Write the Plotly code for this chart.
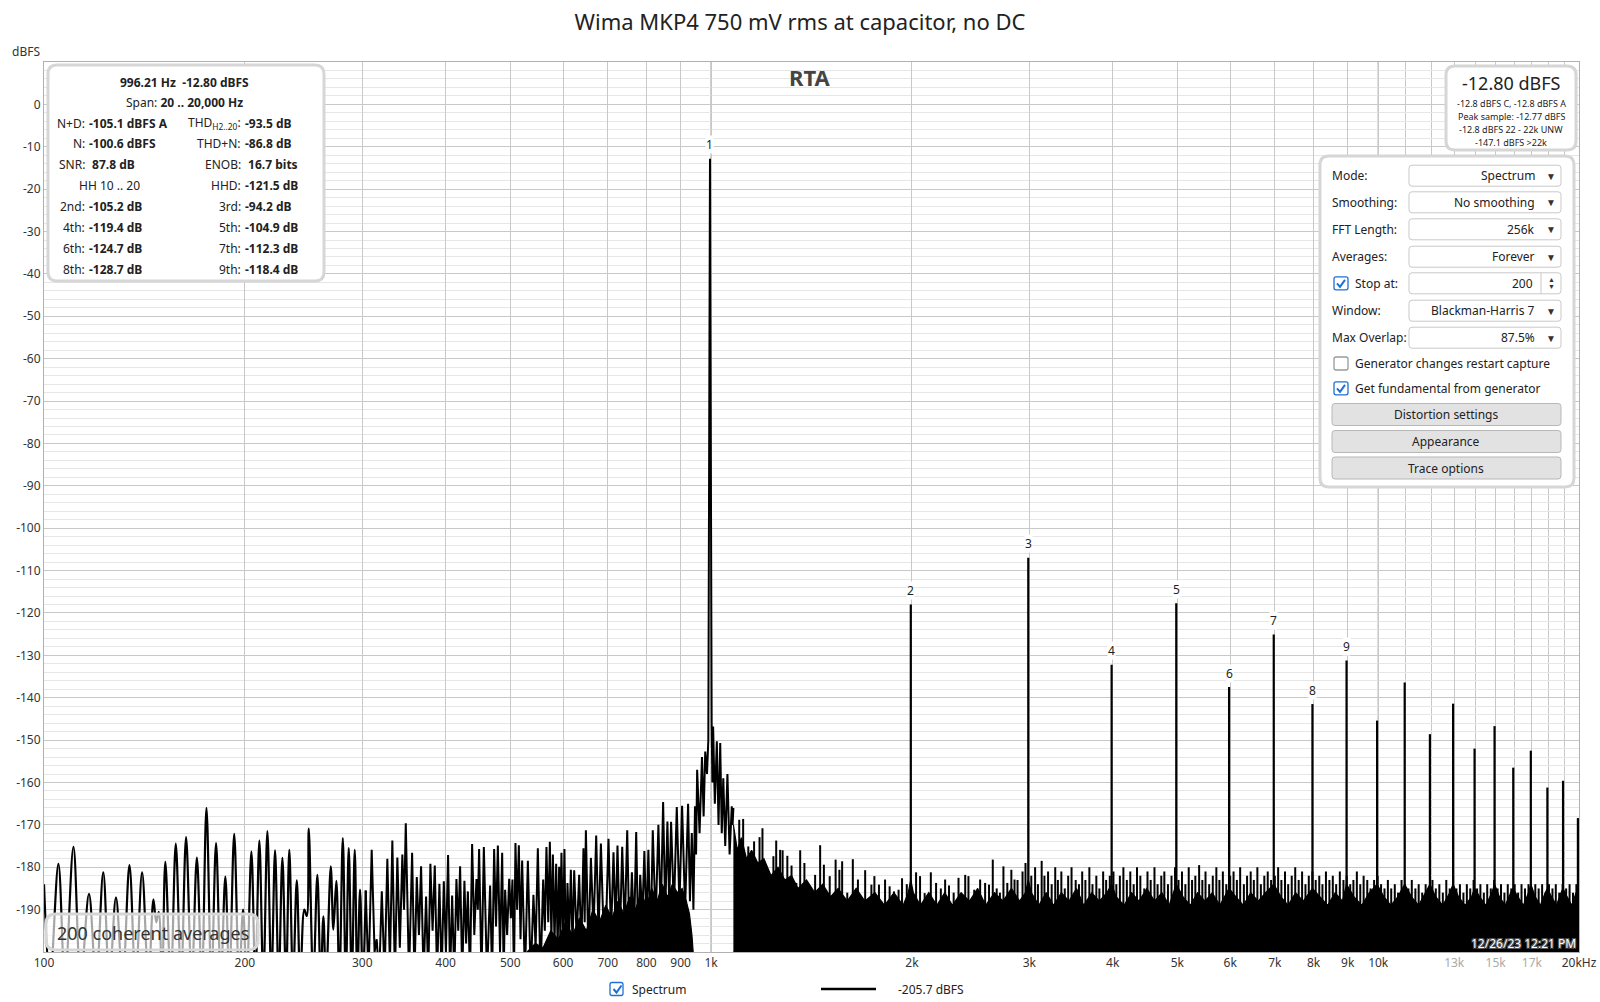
import math
import plotly.graph_objects as go

FONT = "Noto Sans"
TITLE = "Wima MKP4 750 mV rms at capacitor, no DC"

# ---------------- spectrum data ----------------
# 100 Hz .. 304 Hz : lobes (peak / null vertices), drawn smoothed
lobe_pts = [
    (100, -184), (102.1, -207), (105.1, -179.2), (107.5, -207), (110.7, -175.2), (113.5, -207),
    (116.8, -186.3), (119.7, -207), (122.7, -181.2), (125.3, -207), (128.2, -187.1), (131.2, -207),
    (134.3, -179.5), (137.2, -207), (140.3, -181.2), (143.4, -207), (145.9, -187.6), (147.3, -193),
    (148.6, -190.5), (150.3, -207), (152.0, -178.7), (154.9, -207), (157.6, -174.4), (160.5, -207),
    (163.3, -172.9), (166.5, -207), (169.5, -177.7), (172.4, -207), (175.2, -166.0), (178.2, -207),
    (181.1, -174.3), (184.1, -207), (187.0, -182.2), (189.6, -207), (192.8, -172.1), (196.1, -207),
    (198.8, -190.0), (201.3, -207), (204.6, -176.3), (207.4, -207), (210.3, -173.7), (213.2, -207),
    (216.2, -171.5), (219.2, -207), (222.0, -176.0), (224.8, -207), (227.7, -177.8), (230.6, -207),
    (233.2, -175.9), (236.2, -207), (239.3, -183.1), (242.2, -207), (245.6, -190.0), (247.7, -191.5),
    (249.4, -170.9), (253.3, -207), (256.9, -181.8), (259.9, -207), (262.3, -191.6), (264.7, -207),
    (269.1, -179.8), (271.5, -194.7), (274.3, -183.2), (277.2, -207), (280.5, -173.1), (283.4, -207),
    (286.3, -175.5), (289.3, -207), (292.3, -175.9), (294.9, -207), (297.7, -185.3), (300.5, -207),
    (303.6, -185.5),
]

# 304 Hz .. 1.08 kHz incl. the fundamental and its skirt
mid_pts = [
    (303.6, -185.5), (306.5, -206), (309.9, -175.9), (313, -200), (315.3, -197), (318, -206),
    (320.9, -185.7), (324, -206), (327.1, -178.0), (330, -203), (332.8, -173.7), (335.8, -206),
    (338.6, -177.7), (341.5, -199), (344.5, -177.0), (346.5, -190), (348.6, -169.6), (352.5, -206),
    (356.3, -176.6), (359.2, -206), (362.1, -182.3), (364.8, -196), (367.5, -179.8), (370.7, -206),
    (373.9, -186.9), (376.7, -206), (379.5, -179.2), (382.4, -195), (385.3, -179.6), (388.4, -206),
    (391.5, -183.9), (394.5, -206), (397.5, -183.3), (400.4, -200), (403.4, -177.1), (406.2, -206),
    (409.1, -186.7), (412.1, -206), (415.2, -182.8), (417.8, -195), (420.5, -179.8), (423.6, -206),
    (426.8, -183.2), (429.3, -198), (431.9, -185.7), (435.1, -206), (438.3, -174.5), (441.6, -196),
    (444.9, -182.8), (447, -190), (449.0, -175.7), (452.7, -206), (456.4, -175.2), (461.4, -206),
    (466.4, -184.3), (469.6, -206), (472.9, -175.7), (476, -194), (479.0, -174.9), (482.6, -200),
    (486.2, -176.6), (488.7, -206), (491.2, -185.3), (494.6, -196), (498.1, -182.7), (501, -192),
    (503.8, -182.9), (506.4, -206), (509.0, -174.3), (512, -190), (515.0, -174.8), (518, -197),
    (520.9, -178.4), (526, -206), (531.3, -178.5), (536.5, -206), (541.6, -186.5), (545.7, -199),
    (549.9, -175.5), (555, -206), (560.1, -182.9), (563.3, -195), (566.5, -175.2), (570, -193),
    (573.2, -174.0), (576.2, -197), (579.2, -177.0), (582.5, -198), (585.8, -179.2), (588.8, -199),
    (591.9, -179.9), (594.2, -196), (596.6, -176.6), (599.7, -197), (602.8, -175.7), (606, -204),
    (609.1, -183.7), (612.7, -196), (616.3, -180.6), (619.8, -199), (623.4, -180.7), (628.8, -197),
    (634.2, -181.8), (639, -199), (643.7, -175.5), (646.4, -193), (649.1, -171.3), (654.7, -200),
    (660.4, -177.8), (666.5, -195), (672.6, -172.5), (678.1, -196), (683.6, -174.4), (692.7, -204),
    (701.8, -173.3), (707.9, -196), (714.0, -176.5), (719, -194), (723.9, -174.9), (729.8, -197),
    (735.8, -175.2), (742.2, -195), (748.6, -171.3), (754.7, -199), (760.8, -181.2), (766.5, -196),
    (772.2, -171.7), (777.6, -198), (783.0, -181.8), (788.6, -192), (794.3, -176.2), (799.8, -194),
    (805.4, -175.9), (811.5, -198), (817.7, -171.3), (825.7, -193), (833.7, -170.0), (840.5, -192),
    (847.4, -164.6), (853.7, -191), (860.0, -169.2), (865.5, -189), (871.0, -169.3), (879.6, -190),
    (888.3, -165.8), (896.5, -189), (904.7, -165.5), (914.2, -190), (923.7, -165.0), (929.6, -188),
    (935.6, -171.9), (940.8, -190), (946, -165.6), (949.5, -177), (953, -157), (961, -172),
    (969, -154), (974.5, -168), (980, -152.7), (986, -158), (990.5, -150), (993.2, -100),
    (995.0, -45), (996.21, -12.8), (997.4, -45), (999.2, -100), (1002, -146), (1004.5, -160),
    (1007, -146.8), (1013, -165), (1020, -150.3), (1026, -170), (1032, -150.7), (1037.5, -172),
    (1043, -159), (1050, -175), (1058, -158), (1066, -177), (1074, -165.6), (1077, -170),
    (1080, -166.0),
]

# 530 Hz .. 940 Hz : top of the solid noise mass left of the fundamental
floor_lo_pts = [
    (530, -200), (545, -198), (560, -199), (575, -195), (590, -197), (605, -193), (620, -196),
    (635, -192), (650, -195), (665, -190), (680, -193), (695, -189), (710, -192), (725, -188),
    (740, -191), (755, -187), (770, -190), (785, -186), (800, -189), (815, -185), (830, -188),
    (845, -184), (860, -187), (875, -184), (890, -186), (905, -185), (918, -188), (928, -191),
    (936, -196), (940, -200),
]

# 1.08 kHz .. 20 kHz : top of the solid noise mass
floor_pts = [
    (1080, -170), (1095, -176), (1110, -173), (1130, -178), (1150, -176), (1175, -179), (1200, -178),
    (1230, -182), (1260, -180), (1290, -183), (1320, -182), (1350, -185), (1390, -183), (1430, -186),
    (1470, -184), (1510, -187), (1550, -185), (1600, -188), (1650, -185), (1700, -188), (1760, -186),
    (1820, -189), (1880, -186), (1940, -189), (1975, -186), (1992, -183), (2010, -186), (2060, -189),
    (2120, -186), (2180, -189), (2240, -186), (2300, -189), (2370, -186), (2440, -188), (2510, -185),
    (2580, -189), (2660, -186), (2740, -188), (2820, -185), (2900, -188), (2960, -186), (2989, -183),
    (3020, -186), (3100, -189), (3180, -186), (3260, -189), (3350, -186), (3440, -188), (3530, -185),
    (3620, -189), (3720, -186), (3820, -188), (3920, -186), (3985, -184), (4050, -187), (4160, -189),
    (4270, -186), (4380, -188), (4500, -185), (4620, -188), (4740, -186), (4860, -189), (4981, -184),
    (5100, -187), (5230, -189), (5360, -186), (5500, -188), (5640, -186), (5790, -189), (5977, -185),
    (6120, -187), (6280, -189), (6440, -186), (6610, -188), (6780, -186), (6973, -184), (7150, -187),
    (7330, -189), (7520, -186), (7720, -188), (7970, -185), (8180, -187), (8400, -189), (8620, -186),
    (8840, -188), (8966, -184), (9200, -187), (9450, -189), (9700, -186), (9962, -184), (10200, -187),
    (10450, -189), (10700, -187), (10958, -184), (11220, -187), (11500, -189), (11780, -186),
    (11955, -184), (12200, -187), (12500, -189), (12800, -186), (12950, -184), (13200, -187),
    (13500, -189), (13800, -187), (13947, -185), (14200, -187), (14500, -189), (14800, -186),
    (14943, -184), (15200, -187), (15500, -189), (15800, -186), (15939, -185), (16200, -187),
    (16500, -189), (16800, -186), (16936, -184), (17200, -187), (17500, -189), (17800, -186),
    (17932, -185), (18200, -187), (18500, -189), (18800, -186), (18928, -185), (19200, -187),
    (19500, -189), (19800, -186), (20000, -188),
]

# noise spikes standing above the solid mass
spike_pts = [
    (1102, -168.8), (1117, -168.6), (1137, -175.1), (1160, -173.9), (1182, -172.9), (1194, -170.8),
    (1215, -182.5), (1240, -177.4), (1252, -173.7), (1269, -175.9), (1280, -176.0), (1301, -177.3),
    (1320, -179.6), (1342, -183.7), (1360, -176.0), (1380, -179.0), (1405, -186), (1432, -181.8),
    (1457, -174.8), (1476, -179.4), (1506, -182.1), (1537, -178.2), (1557, -180.6), (1572, -178.6),
    (1600, -186), (1631, -178.1), (1660, -182.9), (1702, -180.7), (1739, -184.1), (1757, -182.1),
    (1785, -184.1), (1823, -182.9), (1852, -184.5), (1880, -185.7), (1910, -185.3), (1933, -182.6),
    (1965, -184), (2029, -181.2), (2057, -182.1), (2090, -186.1), (2135, -181.2), (2174, -183.7),
    (2210, -185), (2243, -182.9), (2273, -184.3), (2310, -186), (2349, -182.5), (2404, -181.8),
    (2431, -182.1), (2480, -185.3), (2531, -182.9), (2575, -183.7), (2610, -184.1), (2644, -178.2),
    (2680, -185), (2710, -186), (2743, -179.8), (2780, -183.7), (2819, -180.6), (2850, -182.9),
    (2880, -183), (2930, -181), (2960, -179), (3020, -182), (3060, -180), (3090, -184), (3130, -178.5),
    (3160, -182), (3200, -181), (3240, -184), (3280, -180), (3310, -183), (3350, -181), (3390, -185),
    (3430, -182), (3470, -180), (3520, -183), (3560, -184), (3600, -181), (3640, -183), (3690, -180),
    (3730, -184), (3780, -182), (3820, -185), (3870, -181), (3910, -183), (3960, -182), (4010, -181),
    (4050, -184), (4100, -182), (4150, -180), (4200, -183), (4250, -181), (4300, -184), (4350, -180),
    (4400, -182), (4460, -185), (4510, -181), (4560, -183), (4620, -180), (4670, -184), (4730, -182),
    (4780, -181), (4840, -184), (4900, -182), (4960, -180), (5020, -183), (5080, -181), (5140, -184),
    (5200, -180), (5260, -183), (5320, -182), (5390, -179.5), (5450, -183), (5510, -181), (5580, -184),
    (5650, -182), (5720, -180), (5780, -183), (5850, -181), (5920, -184), (6000, -182), (6070, -181),
    (6140, -183), (6210, -180), (6290, -184), (6360, -182), (6440, -181), (6510, -183), (6590, -180),
    (6670, -184), (6750, -182), (6830, -181), (6910, -183), (7000, -182), (7080, -180), (7160, -183),
    (7250, -181), (7330, -184), (7420, -182), (7510, -180), (7600, -183), (7690, -181), (7780, -184),
    (7870, -182), (7970, -181), (8060, -183), (8160, -182), (8250, -184), (8350, -181), (8450, -183),
    (8550, -182), (8650, -184), (8760, -181), (8870, -183), (8970, -182), (9080, -184), (9180, -183),
    (9290, -181), (9400, -184), (9510, -182), (9630, -183), (9740, -185), (9860, -183), (9980, -182),
    (10100, -184), (10220, -185), (10340, -183), (10460, -185), (10590, -184), (10710, -186),
    (10840, -183), (10970, -184), (11100, -185), (11230, -183), (11370, -185), (11500, -184),
    (11640, -186), (11780, -184), (11920, -185), (12060, -183), (12200, -185), (12350, -184),
    (12500, -186), (12650, -183), (12800, -185), (12950, -182), (13100, -185), (13260, -184),
    (13420, -186), (13580, -184), (13740, -185), (13900, -183), (14070, -185), (14230, -184),
    (14400, -186), (14570, -184), (14750, -185), (14920, -183), (15100, -185), (15280, -184),
    (15460, -186), (15640, -184), (15830, -185), (16020, -184), (16210, -186), (16400, -184),
    (16600, -185), (16800, -184), (17000, -186), (17200, -184), (17400, -185), (17610, -184),
    (17820, -186), (18030, -184), (18250, -185), (18460, -184), (18680, -186), (18900, -184),
    (19130, -185), (19360, -184), (19590, -186), (19820, -184),
]

# harmonics 2..20
harm_n = list(range(2, 21))
harm_f = [1992.4, 2988.6, 3984.8, 4981.1, 5977.3, 6973.5, 7969.7, 8965.9, 9962.1, 10958.3,
          11954.5, 12950.7, 13946.9, 14943.2, 15939.4, 16935.6, 17931.8, 18928.0, 19924.2]
harm_db = [-118.0, -107.0, -132.2, -117.7, -137.5, -125.1, -141.5, -131.2, -145.4, -136.4,
           -148.6, -141.4, -152.0, -146.7, -156.5, -152.5, -161.2, -159.6, -168.4]
fund_f, fund_db = 996.21, -12.8

# axis ticks
x_tickvals = [100, 200, 300, 400, 500, 600, 700, 800, 900,
              1000, 2000, 3000, 4000, 5000, 6000, 7000, 8000, 9000,
              10000, 13000, 15000, 17000, 20000]
x_ticktext = ["100", "200", "300", "400", "500", "600", "700", "800", "900",
              "1k", "2k", "3k", "4k", "5k", "6k", "7k", "8k", "9k",
              "10k", "13k", "15k", "17k", "20kHz"]
x_minor_vals = [11000, 12000, 14000, 16000, 18000, 19000]
x_faded = ["13k", "15k", "17k"]
y_tickvals = list(range(-190, 1, 10))
y_ticktext = [str(v) for v in y_tickvals]

# text panels
stats_head = ["<b>996.21 Hz\u00a0\u00a0-12.80 dBFS</b>", "Span: <b>20 .. 20,000 Hz</b>"]
stats_left = [("N+D:", "-105.1 dBFS A"), ("N:", "-100.6 dBFS"), ("SNR:", "\u00a087.8 dB"), (None, "HH 10 .. 20"),
              ("2nd:", "-105.2 dB"), ("4th:", "-119.4 dB"), ("6th:", "-124.7 dB"), ("8th:", "-128.7 dB")]
stats_right = [("THD<sub>H2..20</sub>:", "-93.5 dB"), ("THD+N:", "-86.8 dB"), ("ENOB:", "\u00a016.7 bits"),
               ("HHD:", "-121.5 dB"), ("3rd:", "-94.2 dB"), ("5th:", "-104.9 dB"), ("7th:", "-112.3 dB"),
               ("9th:", "-118.4 dB")]
level_big = "-12.80 dBFS"
level_small = ["-12.8 dBFS C, -12.8 dBFS A", "Peak sample: -12.77 dBFS", "-12.8 dBFS 22 - 22k UNW", "-147.1 dBFS >22k"]
ctrl_labels = ["Mode:", "Smoothing:", "FFT Length:", "Averages:", "Stop at:", "Window:", "Max Overlap:"]
ctrl_values = ["Spectrum", "No smoothing", "256k", "Forever", "200", "Blackman-Harris 7", "87.5%"]
ctrl_checks = [("Generator changes restart capture", False), ("Get fundamental from generator", True)]
ctrl_buttons = ["Distortion settings", "Appearance", "Trace options"]

Y_MIN, Y_MAX = -200, 10

# ---------------- geometry helpers (pixel -> paper) ----------------
L, R, T, B = 44, 1579, 62, 952
W, H = R - L, B - T


def px(x):
    return (x - L) / W


def py(y):
    return (B - y) / H


def pt(x, y):
    return f"{px(x):.5f},{py(y):.5f}"


def rrect(x0, y0, x1, y1, r, fill, line, lw, layer="above"):
    path = (f"M{pt(x0 + r, y0)} L{pt(x1 - r, y0)} Q{pt(x1, y0)} {pt(x1, y0 + r)} "
            f"L{pt(x1, y1 - r)} Q{pt(x1, y1)} {pt(x1 - r, y1)} L{pt(x0 + r, y1)} "
            f"Q{pt(x0, y1)} {pt(x0, y1 - r)} L{pt(x0, y0 + r)} Q{pt(x0, y0)} {pt(x0 + r, y0)} Z")
    return dict(type="path", path=path, xref="paper", yref="paper", fillcolor=fill,
                line=dict(color=line, width=lw), layer=layer)


def seg(x0, y0, x1, y1, color, w):
    return dict(type="line", x0=px(x0), y0=py(y0), x1=px(x1), y1=py(y1), xref="paper", yref="paper",
                line=dict(color=color, width=w), layer="above")


def txt(x, y, s, size=12, color="#222", anchor="center", **kw):
    return dict(x=px(x), y=py(y), xref="paper", yref="paper", text=s, showarrow=False,
                xanchor=anchor, yanchor="middle", font=dict(size=size, color=color, family=FONT), **kw)


def check_path(x0, y0):
    return dict(type="path", xref="paper", yref="paper", layer="above",
                path=f"M{pt(x0 + 3, y0 + 6.5)} L{pt(x0 + 6, y0 + 10)} L{pt(x0 + 11, y0 + 3)}",
                line=dict(color="#1f6fd6", width=2))


def filled(pts):
    xs = [p[0] for p in pts]
    ys = [p[1] for p in pts]
    return go.Scatter(x=xs + [xs[-1], xs[0]], y=ys + [Y_MIN, Y_MIN], mode="lines", fill="toself",
                      fillcolor="black", line=dict(color="black", width=1.2), hoverinfo="skip")


# ---------------- traces ----------------
fig = go.Figure()
fig.add_trace(filled(floor_lo_pts))
fig.add_trace(filled(floor_pts))

sx, sy = [], []
for f, d in spike_pts:
    sx += [f, f, None]
    sy += [Y_MIN, d, None]
fig.add_trace(go.Scatter(x=sx, y=sy, mode="lines", line=dict(color="black", width=2), hoverinfo="skip"))

fig.add_trace(go.Scatter(x=[p[0] for p in lobe_pts], y=[p[1] for p in lobe_pts], mode="lines",
                         line=dict(color="black", width=2.2, shape="spline", smoothing=1.0)))
fig.add_trace(go.Scatter(x=[p[0] for p in mid_pts], y=[p[1] for p in mid_pts], mode="lines",
                         line=dict(color="black", width=2)))

hx, hy = [], []
for f, d in zip(harm_f, harm_db):
    hx += [f, f, None]
    hy += [Y_MIN, d, None]
fig.add_trace(go.Scatter(x=hx, y=hy, mode="lines", line=dict(color="black", width=2.2), hoverinfo="skip"))

# ---------------- shapes & annotations ----------------
shapes = []
ann = []

# decade grid lines (darker)
for dec in (1000, 10000):
    shapes.append(dict(type="line", x0=dec, x1=dec, y0=0, y1=1, xref="x", yref="paper",
                       line=dict(color="#8a8a8a", width=1), layer="between"))

# harmonic numbers
lab_f = [fund_f] + harm_f[:8]
lab_db = [fund_db] + harm_db[:8]
for i, (f, d) in enumerate(zip(lab_f, lab_db), start=1):
    ann.append(dict(x=math.log10(f), y=d, xref="x", yref="y", text=str(i), showarrow=False,
                    yshift=14, xanchor="center", yanchor="middle", bgcolor="white", borderpad=0,
                    font=dict(size=12, color="#222", family=FONT)))

# y unit / mode label
ann.append(txt(26, 51, "dBFS", size=12, color="#333"))
ann.append(txt(810, 77, "<b>RTA</b>", size=22, color="#444"))

# stats box
shapes.append(rrect(48, 65, 324, 281, 9, "white", "#d6d6d6", 3))
row_y = [82, 102.5, 123, 143.5, 164.5, 185.5, 206.5, 227, 248, 269]
ann.append(txt(184, row_y[0], stats_head[0], size=12))
ann.append(txt(184, row_y[1], stats_head[1], size=12))
for i, ((ll, lv), (rl, rv)) in enumerate(zip(stats_left, stats_right)):
    y = row_y[i + 2]
    if ll is None:
        ann.append(txt(109, y, lv, size=12))
    else:
        ann.append(txt(87, y, ll, size=12, anchor="right"))
        ann.append(txt(87, y, f"<b>{lv}</b>", size=12, anchor="left"))
    ann.append(txt(243, y, rl, size=12, anchor="right"))
    ann.append(txt(243, y, f"<b>{rv}</b>", size=12, anchor="left"))

# level box
shapes.append(rrect(1446, 66, 1576, 150, 9, "white", "#d6d6d6", 3))
ann.append(txt(1511, 83, level_big, size=18, color="#222"))
for i, s in enumerate(level_small):
    ann.append(txt(1511, 103 + i * 13.2, s, size=9, color="#222"))

# control panel
shapes.append(rrect(1320, 156, 1574, 487, 9, "white", "#d6d6d6", 3))
ctrl_y = [175.7, 202.3, 229.3, 256.7, 283.3, 310.7, 337.7]
for lab, val, y in zip(ctrl_labels, ctrl_values, ctrl_y):
    shapes.append(rrect(1409, y - 10.5, 1561, y + 10.5, 3, "white", "#c9c9c9", 1))
    if lab == "Stop at:":
        shapes.append(rrect(1334, y - 6.5, 1348, y + 6.5, 2, "white", "#1f6fd6", 1.3))
        shapes.append(check_path(1334, y - 6.5))
        ann.append(txt(1353, y, lab, size=12, anchor="left"))
        shapes.append(seg(1541, y - 10.5, 1541, y + 10.5, "#c9c9c9", 1))
        ann.append(txt(1535, y, val, size=12, anchor="right"))
        ann.append(txt(1551, y - 3.5, "\u25b2", size=7, color="#333"))
        ann.append(txt(1551, y + 3.5, "\u25bc", size=7, color="#333"))
    else:
        ann.append(txt(1330, y, lab, size=12, anchor="left"))
        ann.append(txt(1537, y, val, size=12, anchor="right"))
        ann.append(txt(1551, y, "\u25bc", size=10, color="#333"))

for (lab, on), y in zip(ctrl_checks, [363.5, 388.3]):
    shapes.append(rrect(1334, y - 6.5, 1348, y + 6.5, 2, "white", "#1f6fd6" if on else "#9a9a9a", 1.3))
    if on:
        shapes.append(check_path(1334, y - 6.5))
    ann.append(txt(1353, y, lab, size=12, anchor="left"))

for lab, y in zip(ctrl_buttons, [414.5, 441.5, 468]):
    shapes.append(rrect(1332, y - 11, 1561, y + 11, 3, "#e2e2e2", "#b8b8b8", 1))
    ann.append(txt(1446, y, lab, size=12))

# averages box
shapes.append(rrect(46, 914, 258, 950, 10, "rgba(255,255,255,0.65)", "#d6d6d6", 3))
ann.append(txt(55, 932.5, "200 coherent averages", size=18, color="#333", anchor="left"))

# timestamp
ann.append(dict(x=px(1578), y=py(943), xref="paper", yref="paper", text="12/26/23 12:21 PM",
                showarrow=False, xanchor="right", yanchor="middle",
                font=dict(size=12, color="white", family=FONT,
                          shadow="-1px -1px 0 #555, 1px -1px 0 #555, -1px 1px 0 #555, 1px 1px 0 #555")))

# bottom legend
shapes.append(rrect(610, 982.5, 623, 995.5, 2, "white", "#1f6fd6", 1.3))
shapes.append(check_path(610.5, 982.5))
ann.append(txt(630, 989, "Spectrum", size=12, anchor="left"))
shapes.append(seg(821, 989, 876, 989, "black", 2.5))
ann.append(txt(896, 989, "-205.7 dBFS", size=12, anchor="left"))

x_text = [f'<span style="color:#a9a9a9">{t}</span>' if t in x_faded else t for t in x_ticktext]

fig.update_layout(
    template="none",
    width=1600, height=1002, autosize=False,
    margin=dict(l=L, r=1600 - R, t=T, b=1002 - B, pad=0),
    paper_bgcolor="white", plot_bgcolor="white",
    showlegend=False,
    font=dict(family=FONT, size=12, color="#333"),
    title=dict(text=TITLE, x=0.5, xref="container", xanchor="center", y=1 - 22 / 1002, yref="container",
               yanchor="middle", font=dict(size=22, color="#222", family=FONT)),
    xaxis=dict(type="log", range=[2, math.log10(20000)], tickvals=x_tickvals, ticktext=x_text,
               automargin=False, showgrid=True, gridcolor="#c8c8c8", gridwidth=1, zeroline=False, ticks="",
               showline=True, mirror=True, linecolor="#b0b0b0", linewidth=1,
               minor=dict(tickvals=x_minor_vals, showgrid=True, gridcolor="#c8c8c8", gridwidth=1, ticks=""),
               tickfont=dict(size=12, color="#333", family=FONT)),
    yaxis=dict(range=[Y_MIN, Y_MAX], tickvals=y_tickvals, ticktext=y_ticktext, automargin=False,
               showgrid=True, gridcolor="#c8c8c8",
               zeroline=False, ticks="", showline=True, mirror=True, linecolor="#b0b0b0", linewidth=1,
               minor=dict(dtick=2, showgrid=True, gridcolor="#e6e6e6", gridwidth=1, ticks=""),
               tickfont=dict(size=12, color="#333", family=FONT)),
    shapes=shapes, annotations=ann,
)

fig.write_html("out.html", config={"displayModeBar": False},
               post_script="document.body.style.margin='0';document.body.style.overflow='hidden';")
